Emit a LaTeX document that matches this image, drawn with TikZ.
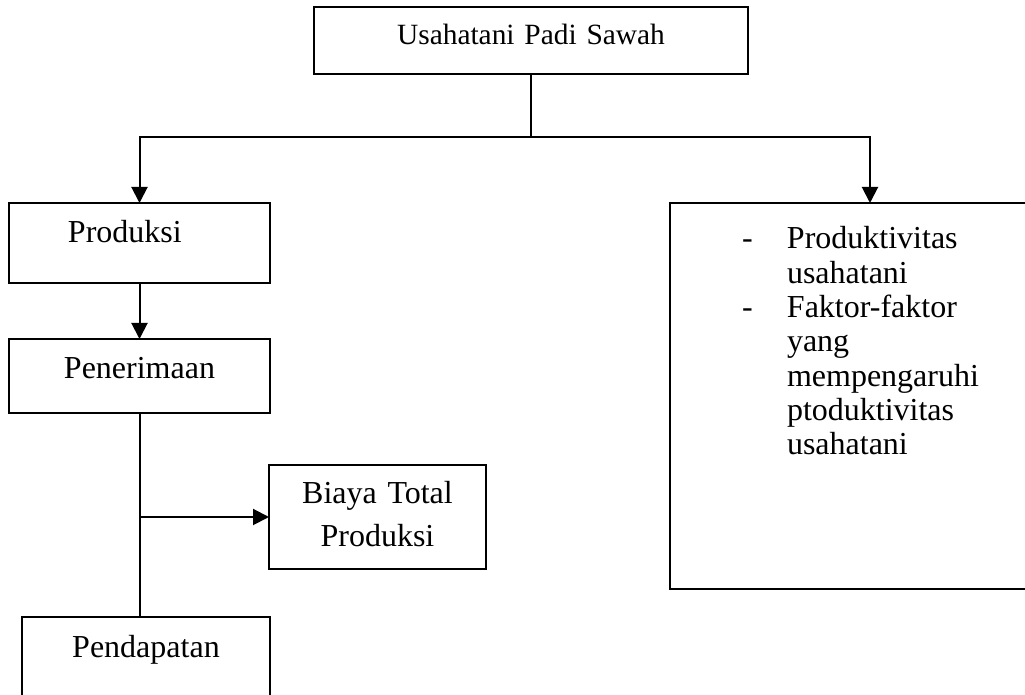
\documentclass[tikz,border=0pt]{standalone}
\usepackage{fontspec}
\setmainfont{Liberation Serif}
\usetikzlibrary{arrows.meta}
\tikzset{
	box/.style = {draw, rectangle, inner sep=0pt, outer sep=0pt,
		anchor=base, text width=#1},
	box/.default = 124pt,
	arr/.style = {-{Triangle[length=8pt, width=8pt]}},
	body/.style = {font=\fontsize{16pt}{17.15pt}\selectfont}
}
\begin{document}
\begin{tikzpicture}[x=0.5pt, y=-0.5pt, line width=1pt]
\useasboundingbox (0,0) rectangle (1025,695);
\clip (0,0) rectangle (1025,695);

\node[box=217pt, text height=19pt, text depth=14.5pt, align=center,
	font=\fontsize{14.7pt}{17pt}\selectfont] (top) at (531,45) {Usahatani Padi Sawah};
\node[box=130.5pt, text height=20pt, text depth=20pt, align=left, body] (prod) at (139.5,243) {\hspace*{29.5pt}Produksi};
\node[box=130.5pt, text height=20pt, text depth=17pt, align=center, body] (rec) at (139.5,379) {Penerimaan};
\node[box=108.5pt, text height=19.5pt, text depth=32.5pt, align=center,
	font=\fontsize{16pt}{21.5pt}\selectfont] (cost) at (377.5,504) {Biaya Total\\Produksi};
\node[box=124pt, text height=20.5pt, text depth=31pt, align=center, body] (inc) at (146,658) {Pendapatan};
\node[box=200pt, text height=23pt, text depth=170pt, align=left, body] (prodv) at (870,249) {%
\hspace*{36pt}\makebox[22.5pt][l]{-}Produktivitas\\
\hspace*{58.5pt}usahatani\\
\hspace*{36pt}\makebox[22.5pt][l]{-}Faktor-faktor\\
\hspace*{58.5pt}yang\\
\hspace*{58.5pt}mempengaruhi\\
\hspace*{58.5pt}ptoduktivitas\\
\hspace*{58.5pt}usahatani};

\coordinate (fork) at (531,137);
\draw (top.south) -- (fork);
\draw[arr] (fork) -| (prod.north);
\draw[arr] (fork) -| (prodv.north);
\draw[arr] (prod.south) -- (rec.north);
\draw (rec.south) -- (rec.south |- inc.north);
\draw[arr] (rec.south |- cost.west) -- (cost.west);
\end{tikzpicture}
\end{document}
